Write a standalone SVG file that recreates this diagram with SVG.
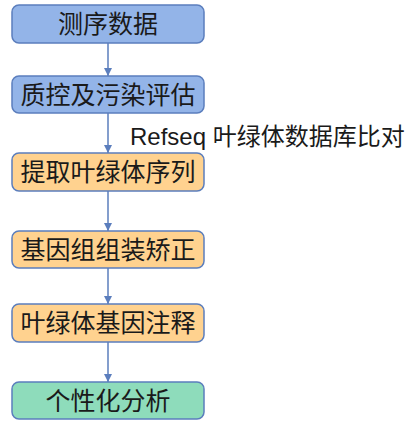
<svg xmlns="http://www.w3.org/2000/svg" width="411" height="426" viewBox="0 0 411 426">
<defs>
<style>
.box{stroke:#5B7EBD;stroke-width:1.5}
.blue{fill:#93B4E8}
.orange{fill:#FFD28F}
.green{fill:#8EDCBB}
.t{font-family:"Liberation Sans","Noto Sans CJK SC",sans-serif;font-size:25px;fill:#1a1a1a;text-anchor:middle}
.lbl{font-family:"Liberation Sans","Noto Sans CJK SC",sans-serif;font-size:24px;fill:#1a1a1a}
.c{stroke:#5B7EBD;stroke-width:1.5;fill:none;marker-end:url(#ah)}
</style>
<marker id="ah" viewBox="0 0 10 10" refX="10" refY="5" markerWidth="8" markerHeight="8" markerUnits="userSpaceOnUse" orient="auto">
<path d="M0,0 L10,5 L0,10 z" fill="#5B7EBD"/>
</marker>
</defs>
<rect width="411" height="426" fill="#fff"/>
<g id="connectors">
<line class="c" x1="108" y1="43" x2="108" y2="76"/>
<line class="c" x1="108" y1="113" x2="108" y2="153"/>
<line class="c" x1="108" y1="191" x2="108" y2="231"/>
<line class="c" x1="108" y1="268" x2="108" y2="304"/>
<line class="c" x1="108" y1="342" x2="108" y2="382"/>
</g>
<g id="n1"><rect class="box blue" x="12" y="5" width="192" height="38" rx="7"/><text class="t" x="108" y="33">测序数据</text></g>
<g id="n2"><rect class="box blue" x="12" y="76" width="192" height="37" rx="7"/><text class="t" x="108" y="103.5">质控及污染评估</text></g>
<g id="lbl"><text class="lbl" x="130" y="145">Refseq 叶绿体数据库比对</text></g>
<g id="n3"><rect class="box orange" x="12" y="153" width="192" height="38" rx="7"/><text class="t" x="108" y="181">提取叶绿体序列</text></g>
<g id="n4"><rect class="box orange" x="12" y="231" width="192" height="37" rx="7"/><text class="t" x="108" y="258.5">基因组组装矫正</text></g>
<g id="n5"><rect class="box orange" x="12" y="304" width="192" height="38" rx="7"/><text class="t" x="108" y="332">叶绿体基因注释</text></g>
<g id="n6"><rect class="box green" x="12" y="382" width="192" height="37" rx="7"/><text class="t" x="108" y="409.5">个性化分析</text></g>
</svg>
